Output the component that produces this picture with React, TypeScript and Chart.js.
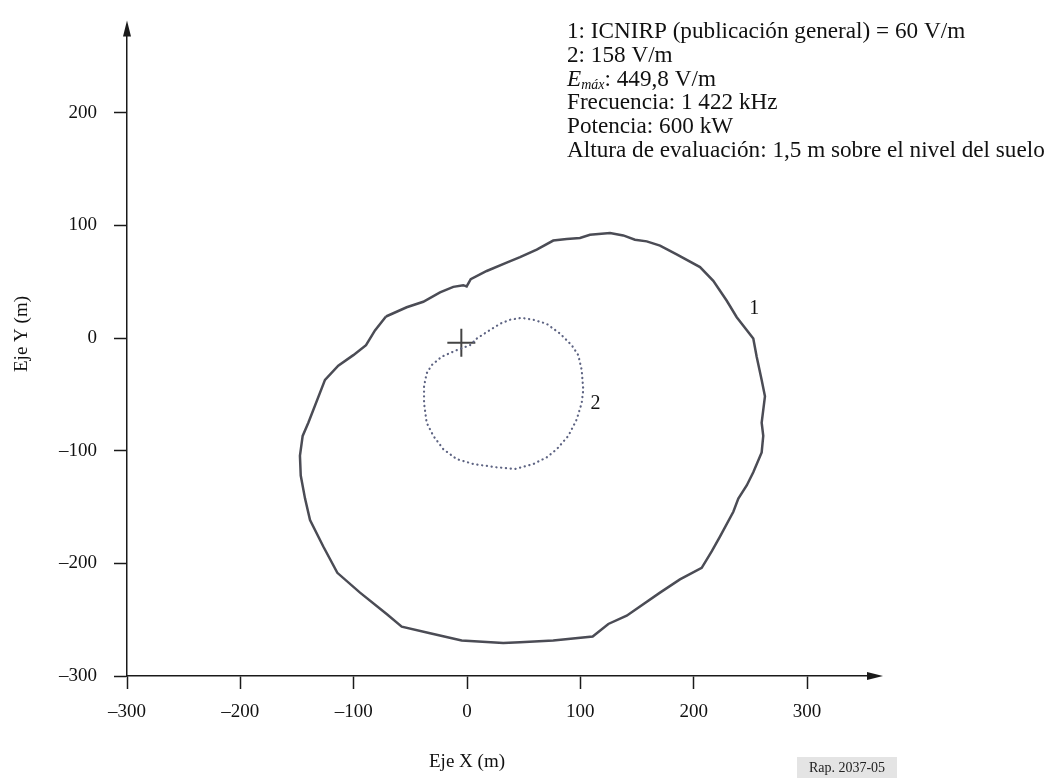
import { useEffect, useRef } from 'react';
import { Chart, registerables } from 'chart.js';

Chart.register(...registerables);

// Curve 1: 60 V/m contour (ICNIRP general public), metres
const contour1X = [
  -71.5, -53.2, -38.6, -23.8, -12.1, -3.3, -0.3, 3.3, 17.4, 35.0, 46.8, 61.5, 76.1, 88.0, 99.7, 108.5,
  126.2, 137.9, 148.2, 158.6, 170.3, 185.0, 205.6, 217.3, 229.2, 238.0, 252.6, 255.6, 260.0, 262.9,
  260.0, 261.4, 260.0, 252.6, 246.8, 239.4, 235.0, 223.2, 215.9, 207.1, 187.9, 170.3, 140.9, 124.7,
  110.9, 76.1, 46.8, 32.0, -4.7, -32.6, -57.6, -70.9, -94.4, -114.4, -126.8, -138.5, -142.9, -146.7,
  -147.4, -145.0, -140.0, -125.3, -113.6, -100.3, -89.1, -81.2,
];
const contour1Y = [
  19.2, 27.4, 32.3, 40.6, 45.5, 47.0, 45.9, 52.3, 59.6, 67.0, 71.9, 78.6, 86.6, 88.0, 88.9, 91.8,
  93.3, 91.2, 87.4, 85.9, 82.2, 74.3, 63.1, 50.8, 33.2, 18.6, -0.4, -16.5, -37.1, -51.7,
  -75.1, -86.8, -101.5, -119.1, -130.8, -142.5, -154.2, -176.2, -189.4, -204.0, -214.2, -226.0, -246.5, -253.8,
  -264.9, -268.5, -270.0, -270.8, -268.5, -262.0, -256.2, -245.0, -226.0, -208.4, -185.0, -161.5, -142.5, -122.0,
  -104.4, -86.8, -75.1, -37.1, -24.4, -15.1, -6.3, 6.9,
];

// Curve 2: 158 V/m contour, metres
const contour2X = [
  8.6, 17.4, 29.1, 37.9, 48.3, 58.5, 70.3, 82.1, 92.4, 98.2, 101.2, 102.6, 101.2, 96.8, 89.4, 79.2,
  70.3, 58.5, 42.4, 26.2, 5.6, -9.1, -20.9, -29.7, -35.6, -37.9, -37.9, -35.6, -31.1, -22.3, -9.1, 2.6,
];
const contour2Y = [
  -0.4, 5.4, 12.7, 16.3, 18.0, 16.3, 12.7, 4.0, -6.3, -15.1, -28.3, -45.9, -57.6, -72.2, -86.8, -98.6,
  -105.9, -111.8, -116.2, -114.7, -111.8, -107.4, -98.6, -86.8, -75.1, -57.6, -42.9, -31.2, -23.9, -16.5, -10.7, -6.3,
];

// Antenna site
const siteX = [-5];
const siteY = [-4];

// Axis ticks (metres)
const tickValues = [-300, -200, -100, 0, 100, 200, 300];

// Curve labels placed next to each contour
const curveLabels = ['1', '2'];
const curveLabelX = [249, 109];
const curveLabelY = [26, -58];

const noteLines = [
  '1: ICNIRP (publicación general) = 60 V/m',
  '2: 158 V/m',
  'E|máx|: 449,8 V/m',
  'Frecuencia: 1 422 kHz',
  'Potencia: 600 kW',
  'Altura de evaluación: 1,5 m sobre el nivel del suelo',
];

const SERIF = '"Liberation Serif", "Times New Roman", Times, serif';
const INK = '#1a1a1a';
const NOTE_SIZE = 23.2;

const closed = (xs: number[], ys: number[]) => {
  const pts = xs.map((x, i) => ({ x, y: ys[i] }));
  pts.push({ x: xs[0], y: ys[0] });
  return pts;
};

const fmtTick = (v: number | string) => {
  const n = Number(v);
  return n < 0 ? '\u2013' + Math.abs(n) : String(n);
};

const overlay = {
  id: 'overlay',
  afterDraw(chart: any) {
    const { ctx, chartArea, scales } = chart;
    const { left: L, right: R, top: T, bottom: B } = chartArea;
    ctx.save();

    // axis arrows
    ctx.strokeStyle = INK;
    ctx.fillStyle = INK;
    ctx.lineWidth = 1.5;
    ctx.beginPath();
    ctx.moveTo(R - 1, B);
    ctx.lineTo(R + 4, B);
    ctx.moveTo(L, T + 1);
    ctx.lineTo(L, T - 4);
    ctx.stroke();
    ctx.beginPath();
    ctx.moveTo(R + 8, B);
    ctx.lineTo(R - 8, B - 4);
    ctx.lineTo(R - 8, B + 4);
    ctx.closePath();
    ctx.fill();
    ctx.beginPath();
    ctx.moveTo(L, T - 8);
    ctx.lineTo(L - 4, T + 8);
    ctx.lineTo(L + 4, T + 8);
    ctx.closePath();
    ctx.fill();

    // axis titles
    ctx.fillStyle = '#111';
    ctx.font = `19px ${SERIF}`;
    ctx.textAlign = 'center';
    ctx.textBaseline = 'middle';
    ctx.fillText('Eje X (m)', 467, 762);
    ctx.save();
    ctx.translate(22, 334);
    ctx.rotate(-Math.PI / 2);
    ctx.fillText('Eje Y (m)', 0, 0);
    ctx.restore();

    // curve labels
    ctx.textAlign = 'left';
    ctx.font = `20px ${SERIF}`;
    curveLabels.forEach((t, i) => {
      const px = scales.x.getPixelForValue(curveLabelX[i]);
      const py = scales.y.getPixelForValue(curveLabelY[i]);
      ctx.fillText(t, px, py);
    });

    // notes block
    const nx = 567;
    let ny = 32;
    noteLines.forEach((line) => {
      if (line.includes('|')) {
        const [main, sub, rest] = line.split('|');
        ctx.font = `italic ${NOTE_SIZE}px ${SERIF}`;
        ctx.fillText(main, nx, ny);
        let x = nx + ctx.measureText(main).width;
        ctx.font = `italic 14px ${SERIF}`;
        ctx.fillText(sub, x, ny + 6);
        x += ctx.measureText(sub).width;
        ctx.font = `${NOTE_SIZE}px ${SERIF}`;
        ctx.fillText(rest, x, ny);
      } else {
        ctx.font = `${NOTE_SIZE}px ${SERIF}`;
        ctx.fillText(line, nx, ny);
      }
      ny += 23.8;
    });

    // figure reference tag
    ctx.fillStyle = '#e4e4e4';
    ctx.fillRect(797, 757, 100, 21);
    ctx.fillStyle = '#222';
    ctx.font = `14px ${SERIF}`;
    ctx.textAlign = 'center';
    ctx.fillText('Rap. 2037-05', 847, 768);

    ctx.restore();
  },
};

export default function App() {
  const ref = useRef<HTMLCanvasElement>(null);

  useEffect(() => {
    if (!ref.current) return;
    const axisCommon = {
      type: 'linear' as const,
      grid: { drawOnChartArea: false, drawTicks: true, tickLength: 13, tickWidth: 1.5, tickColor: INK },
      border: { display: true, color: INK, width: 1.5 },
    };
    const keepTicks = (s: any) => {
      s.ticks = tickValues.filter((v) => v >= s.min && v <= s.max).map((value) => ({ value }));
    };
    const chart = new Chart(ref.current, {
      type: 'scatter',
      data: {
        datasets: [
          {
            data: closed(contour1X, contour1Y),
            showLine: true,
            borderColor: '#4b4c55',
            borderWidth: 2.5,
            pointRadius: 0,
            tension: 0,
          },
          {
            data: closed(contour2X, contour2Y),
            showLine: true,
            borderColor: '#5d6382',
            borderWidth: 2.2,
            borderDash: [0.2, 4.6],
            borderCapStyle: 'round',
            pointRadius: 0,
            tension: 0,
          },
          {
            data: siteX.map((x, i) => ({ x, y: siteY[i] })),
            pointStyle: 'cross',
            pointRadius: 14,
            borderColor: '#444',
            borderWidth: 2,
          },
        ],
      },
      options: {
        animation: false,
        responsive: false,
        maintainAspectRatio: false,
        layout: { padding: { left: 0, top: 22, right: 179, bottom: 0 } },
        plugins: { legend: { display: false }, tooltip: { enabled: false } },
        scales: {
          x: {
            ...axisCommon,
            min: -300,
            max: 360,
            afterBuildTicks: keepTicks,
            afterFit: (s: any) => {
              s.height = 102;
            },
            ticks: {
              font: { family: SERIF, size: 19 },
              color: '#111',
              padding: 12,
              maxRotation: 0,
              autoSkip: false,
              callback: fmtTick,
            },
          },
          y: {
            ...axisCommon,
            min: -300,
            max: 275,
            afterBuildTicks: keepTicks,
            afterFit: (s: any) => {
              s.width = 127;
            },
            ticks: {
              font: { family: SERIF, size: 19 },
              color: '#111',
              padding: 17,
              autoSkip: false,
              callback: fmtTick,
            },
          },
        },
      },
      plugins: [overlay],
    } as any);
    return () => chart.destroy();
  }, []);

  return (
    <div style={{ position: 'absolute', left: 0, top: 0, width: 1054, height: 778, background: '#fff' }}>
      <canvas ref={ref} width={1054} height={778} style={{ display: 'block' }} />
    </div>
  );
}
